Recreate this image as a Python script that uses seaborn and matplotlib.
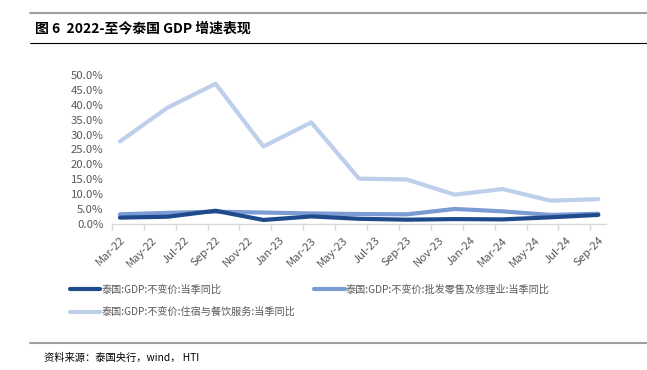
import pandas as pd
import matplotlib.pyplot as plt
import seaborn as sns
from matplotlib.lines import Line2D

# Data (quarterly, % yoy)
quarters = ["2022-03", "2022-06", "2022-09", "2022-12", "2023-03", "2023-06",
            "2023-09", "2023-12", "2024-03", "2024-06", "2024-09"]
gdp = [2.1, 2.4, 4.4, 1.3, 2.5, 1.7, 1.4, 1.6, 1.5, 2.2, 3.0]
trade = [3.2, 3.7, 4.1, 3.8, 3.5, 3.3, 3.2, 5.0, 4.2, 3.0, 3.4]
hotel = [27.7, 39.1, 47.1, 26.0, 34.1, 15.2, 14.9, 9.8, 11.7, 7.8, 8.3]

# Tick labels, every 2 months
tick_labels = ["Mar-22", "May-22", "Jul-22", "Sep-22", "Nov-22", "Jan-23", "Mar-23", "May-23",
               "Jul-23", "Sep-23", "Nov-23", "Jan-24", "Mar-24", "May-24", "Jul-24", "Sep-24"]

names = ["泰国:GDP:不变价:当季同比",
         "泰国:GDP:不变价:批发零售及修理业:当季同比",
         "泰国:GDP:不变价:住宿与餐饮服务:当季同比"]
colors = ["#1f4b8c", "#7b9bd3", "#bdcfea"]

sns.set_theme(style="white")
plt.rcParams["font.family"] = ["Noto Sans CJK SC", "DejaVu Sans"]

# month index from Mar-22
dates = pd.to_datetime(quarters)
start = dates[0]
months = (dates.year - start.year) * 12 + (dates.month - start.month)

df = pd.DataFrame({"month": list(months) * 3,
                   "value": gdp + trade + hotel,
                   "series": [names[0]] * 11 + [names[1]] * 11 + [names[2]] * 11})

fig = plt.figure(figsize=(6.47, 3.70), dpi=100)
ax = fig.add_axes([0.173, 0.395, 0.764, 0.402])

# draw light first so darker lines stay on top
for name, c in zip(names[::-1], colors[::-1]):
    sns.lineplot(data=df[df["series"] == name], x="month", y="value", color=c,
                 linewidth=3, ax=ax, legend=False)

ax.set_xlim(-0.5, 30.5)
ax.set_ylim(0, 50)
ax.set_yticks(range(0, 51, 5))
ax.set_yticklabels([f"{v:.1f}%" for v in range(0, 51, 5)], fontsize=8.2, color="#595959")
ax.set_xticks(range(0, 31, 2))
ax.set_xticklabels(tick_labels, rotation=45, ha="right", rotation_mode="anchor",
                   fontsize=8.2, color="#595959")
ax.set_xticks([x - 0.5 for x in range(0, 32, 2)], minor=True)
ax.tick_params(axis="x", which="major", length=0, pad=8)
ax.tick_params(axis="x", which="minor", length=4, color="#d9d9d9", width=1, bottom=True)
ax.tick_params(axis="y", length=0, pad=6)
ax.set_xlabel("")
ax.set_ylabel("")
for s in ["top", "right", "left"]:
    ax.spines[s].set_visible(False)
ax.spines["bottom"].set_color("#d9d9d9")
ax.spines["bottom"].set_linewidth(1)

# Legend (row-major order)
handles = [Line2D([], [], color=c, linewidth=3) for c in colors]
order = [0, 2, 1]
fig.legend([handles[i] for i in order], [names[i] for i in order], ncol=2,
           loc="upper left", bbox_to_anchor=(0.108, 0.232), frameon=False,
           fontsize=7.3, labelcolor="#595959", handlelength=3.0, handletextpad=0.1,
           columnspacing=1.9, labelspacing=1.25, borderpad=0, borderaxespad=0)

# Title, rules and source
fig.add_artist(Line2D([0.046, 1.0], [0.965, 0.965], color="#a0a0a0", linewidth=1.5))
fig.text(0.054, 0.924, "图 6  2022-至今泰国 GDP 增速表现", fontsize=10, fontweight="bold",
         va="center", ha="left", color="black")
fig.add_artist(Line2D([0.046, 1.0], [0.884, 0.884], color="black", linewidth=0.8))
fig.add_artist(Line2D([0.046, 1.0], [0.073, 0.073], color="#a0a0a0", linewidth=1.5))
fig.text(0.068, 0.033, "资料来源：泰国央行，wind， HTI", fontsize=7.4, va="center", ha="left",
         color="black")

plt.savefig("out.png", dpi=100)
